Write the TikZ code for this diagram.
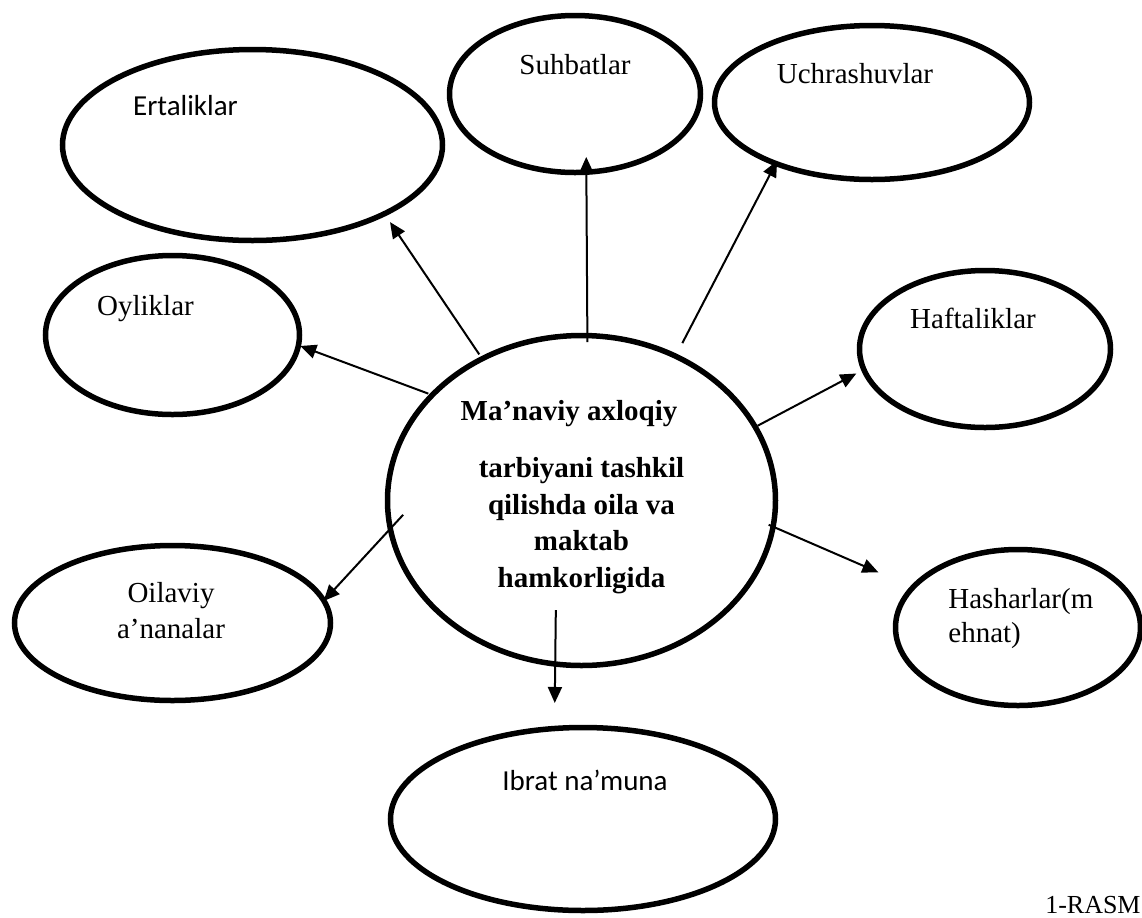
\documentclass[tikz,border=0pt]{standalone}
\usepackage{fontspec}
\setmainfont{Liberation Serif}
\newfontfamily\calib{Carlito}
\usetikzlibrary{shapes.geometric,arrows.meta}

\begin{document}
\begin{tikzpicture}[x=0.5pt, y=-0.5pt,
        oval/.style={ellipse, draw, line width=2.75pt, inner sep=0pt},
        lbl/.style={inner sep=0pt, font=\fontsize{14.5}{18}\selectfont},
        arr/.style={-{Triangle[length=8pt,width=7pt]}, line width=1pt},
    ]
    \useasboundingbox (0,0) rectangle (1142,917);

	\node[oval, minimum width=194pt, minimum height=165pt] (hub) at (581.5,500.5) {};
	\node[oval, minimum width=190pt, minimum height=95.5pt] (ertal) at (252.5,145) {};
	\node[oval, minimum width=125.5pt, minimum height=78.5pt] (suhbat) at (575,94) {};
	\node[oval, minimum width=157.5pt, minimum height=77pt] (uchr) at (872,102.5) {};
	\node[oval, minimum width=125.5pt, minimum height=78.5pt] (hafta) at (985,349) {};
	\node[oval, minimum width=127pt, minimum height=79.5pt] (oylik) at (172.5,335) {};
	\node[oval, minimum width=158pt, minimum height=77.5pt] (oilav) at (172.5,623) {};
	\node[oval, minimum width=122.5pt, minimum height=78pt] (hashar) at (1018,627.5) {};
	\node[oval, minimum width=192.5pt, minimum height=91.5pt] (ibrat) at (583,819) {};

	\node[lbl, anchor=base, font=\fontsize{14.5}{18}\selectfont\bfseries, xshift=-6.25pt, yshift=40.25pt] (hub_t) at (hub) {Ma’naviy axloqiy};
	\node[lbl, align=center, font=\fontsize{14.5}{18.3}\selectfont\bfseries, yshift=-12.5pt] (hub_b) at (hub) {tarbiyani tashkil\\qilishda oila va\\maktab\\hamkorligida};
	\node[lbl, anchor=base, font=\fontsize{14.5}{18}\selectfont\calib, xshift=-33.5pt, yshift=15pt] (ertal_t) at (ertal) {Ertaliklar};
	\node[lbl, anchor=base, yshift=10pt] (suhbat_t) at (suhbat) {Suhbatlar};
	\node[lbl, anchor=base, xshift=-8.5pt, yshift=9.75pt] (uchr_t) at (uchr) {Uchrashuvlar};
	\node[lbl, anchor=base, xshift=-6pt, yshift=10.5pt] (hafta_t) at (hafta) {Haftaliklar};
	\node[lbl, anchor=base, xshift=-13.5pt, yshift=10pt] (oylik_t) at (oylik) {Oyliklar};
	\node[lbl, align=center, xshift=-0.75pt, yshift=6pt] (oilav_t) at (oilav) {Oilaviy\\a’nanalar};
	\node[lbl, align=left, anchor=west, font=\fontsize{14.5}{17}\selectfont, xshift=-35pt, yshift=4.5pt] (hashar_t) at (hashar) {Hasharlar(m\\ehnat)};
	\node[lbl, anchor=base, font=\fontsize{14.5}{18}\selectfont\calib, xshift=1pt, yshift=14.5pt] (ibrat_t) at (ibrat) {Ibrat na’muna};
	\node[inner sep=0pt, anchor=base east, font=\fontsize{13}{15}\selectfont] (rasm) at (1141,913) {1-RASM};

	\draw[arr, shorten <=1.25pt, shorten >=3.7pt] (hub.125.45) -- (ertal.-28.7);
	\draw[arr, shorten <=-4.6pt, shorten >=-9pt] (hub.88.46) -- (suhbat.-82.26);
	\draw[arr, shorten <=6pt, shorten >=-2.8pt] (hub.57.07) -- (uchr.-147.87);
	\draw[arr, shorten >=2.9pt] (hub.23.28) -- (hafta.190.78);
	\draw[arr, shorten <=0.6pt, shorten >=-0.4pt] (hub.145.58) -- (oylik.-5.48);
	\draw[arr, shorten <=-11.1pt, shorten >=-1.55pt] (hub.189.53) -- (oilav.9.37);
	\draw[arr, shorten <=-3.8pt, shorten >=17.45pt] (hub.-8.93) -- (hashar.159.02);
	\draw[arr, shorten <=-28.3pt, shorten >=11.4pt] (hub.-99.4) -- (ibrat.107.28);

    \end{tikzpicture}
\end{document}
